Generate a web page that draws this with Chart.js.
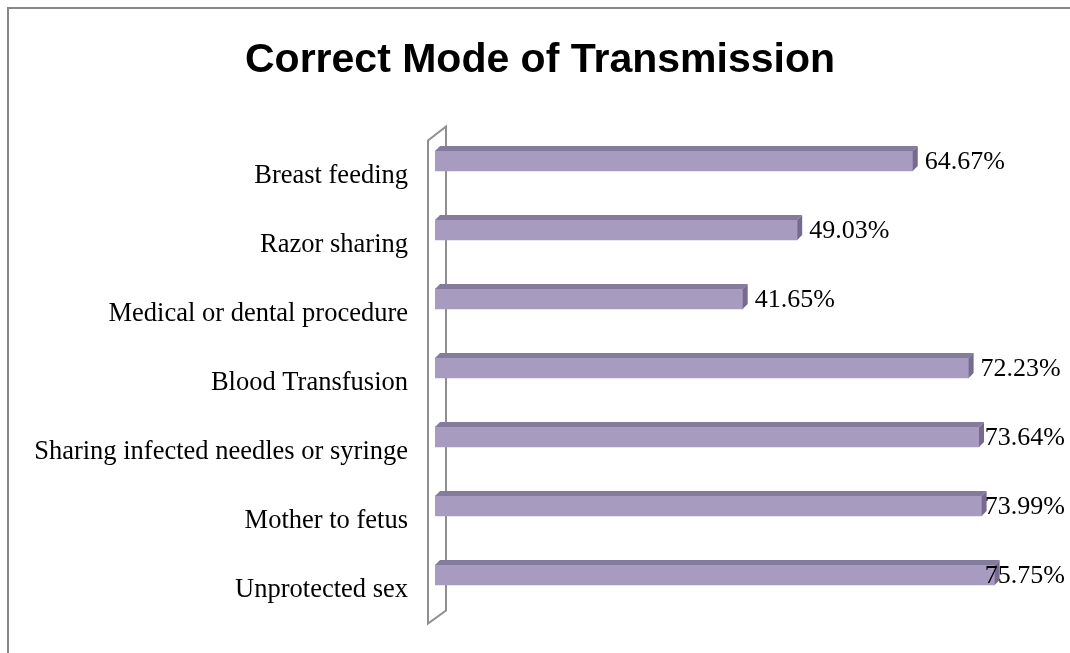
<!DOCTYPE html>
<html>
<head>
<meta charset="utf-8">
<script src="https://cdn.jsdelivr.net/npm/chart.js@4.4.0/dist/chart.umd.min.js"></script>
<style>
  body { margin: 0; background: #fff; }
  #frame { position: absolute; left: 7px; top: 7px; width: 1100px; height: 700px;
           border-top: 2px solid #878787; border-left: 2px solid #878787; }
  #wrap { position: absolute; left: 0; top: 0; width: 1070px; height: 653px; }
</style>
</head>
<body>
<div id="frame"></div>
<div id="wrap"><canvas id="modeChart" width="1070" height="653"></canvas></div>
<script>
// Chart data
const categories = [
  "Breast feeding",
  "Razor sharing",
  "Medical or dental procedure",
  "Blood Transfusion",
  "Sharing infected needles or syringe",
  "Mother to fetus",
  "Unprotected sex",
];
const percentValues = [64.67, 49.03, 41.65, 72.23, 73.64, 73.99, 75.75];

const serifFont = "'Liberation Serif', 'Times New Roman', serif";
const DEPTH = 5;

// back wall of the 3D chart, drawn before the bars
const wallPlugin = {
  id: "wall",
  afterLayout(chart) {
    // centre the title a bit right of the plot, like the original
    chart.titleBlock.left = 54;
  },
  beforeDatasetsDraw(chart) {
    const { ctx, chartArea } = chart;
    const l = chartArea.left, t = chartArea.top, b = chartArea.bottom;
    ctx.save();
    ctx.strokeStyle = "#8f8f8f";
    ctx.lineWidth = 2;
    ctx.beginPath();
    ctx.moveTo(l - 7, t + 14);
    ctx.lineTo(l + 11, t);
    ctx.lineTo(l + 11, b + 1);
    ctx.lineTo(l - 7, b + 14);
    ctx.closePath();
    ctx.stroke();
    ctx.restore();
  },
};

// top and right faces of each bar, plus value labels
const bar3dPlugin = {
  id: "bar3d",
  afterDatasetsDraw(chart) {
    const { ctx } = chart;
    const meta = chart.getDatasetMeta(0);
    ctx.save();
    meta.data.forEach((bar, i) => {
      const top = bar.y - bar.height / 2;
      const bottom = bar.y + bar.height / 2;
      ctx.fillStyle = "#857b9d";
      ctx.beginPath();
      ctx.moveTo(bar.base, top);
      ctx.lineTo(bar.base + DEPTH, top - DEPTH);
      ctx.lineTo(bar.x + DEPTH, top - DEPTH);
      ctx.lineTo(bar.x, top);
      ctx.closePath();
      ctx.fill();
      ctx.fillStyle = "#766b8f";
      ctx.beginPath();
      ctx.moveTo(bar.x, top);
      ctx.lineTo(bar.x + DEPTH, top - DEPTH);
      ctx.lineTo(bar.x + DEPTH, bottom - DEPTH);
      ctx.lineTo(bar.x, bottom);
      ctx.closePath();
      ctx.fill();

      // value label, kept inside the canvas
      const text = percentValues[i].toFixed(2) + "%";
      ctx.font = "26px " + serifFont;
      ctx.fillStyle = "#000";
      ctx.textBaseline = "middle";
      ctx.textAlign = "left";
      const w = ctx.measureText(text).width;
      const x = Math.min(bar.x + 12, chart.width - 5 - w);
      ctx.fillText(text, x, bar.y + 1);
    });
    ctx.restore();
  },
};

const ctxMode = document.getElementById("modeChart").getContext("2d");
const modeChart = new Chart(ctxMode, {
  type: "bar",
  data: {
    labels: categories,
    datasets: [
      {
        data: percentValues,
        backgroundColor: "#a79bc0",
        borderWidth: 0,
        barThickness: 20,
      },
    ],
  },
  options: {
    indexAxis: "y",
    responsive: false,
    animation: false,
    layout: { padding: { left: 0, right: 44, top: 0, bottom: 43.5 } },
    plugins: {
      legend: { display: false },
      tooltip: { enabled: false },
      title: {
        display: true,
        text: "Correct Mode of Transmission",
        color: "#000",
        font: { family: "'Liberation Sans', Arial, sans-serif", size: 41, weight: "bold", lineHeight: 1.2 },
        padding: { top: 36, bottom: 41.3 },
      },
    },
    scales: {
      x: { display: false, min: 0, max: 80 },
      y: {
        grid: { display: false },
        border: { display: false },
        ticks: {
          color: "#000",
          font: { family: serifFont, size: 26.5 },
          padding: 19,
          labelOffset: 15,
        },
        afterFit(scale) {
          scale.width = 435;
        },
      },
    },
  },
  plugins: [wallPlugin, bar3dPlugin],
});
</script>
</body>
</html>
